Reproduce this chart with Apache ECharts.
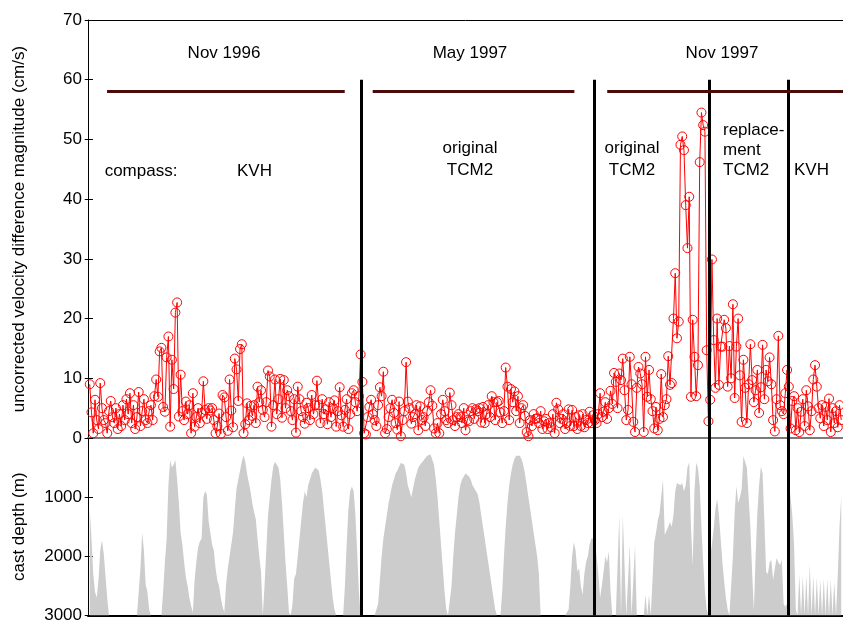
<!DOCTYPE html>
<html>
<head>
<meta charset="utf-8">
<script src="https://cdn.jsdelivr.net/npm/echarts@6/dist/echarts.min.js"></script>
<style>
  html, body { margin: 0; padding: 0; background: #fff; }
  #chart { width: 843px; height: 624px; }
</style>
</head>
<body>
<div id="chart"></div>
<script>
// Velocity difference magnitude (cm/s), one value per cast, grouped by cruise / compass
const velNov96Kvh = [
  9, 4.3, 0.8, 6.4, 3, 1.5, 9.2, 5, 3, 2.5,
  0.8, 4.5, 6.2, 3.5, 2.5, 5, 1.5, 4, 2, 5.5,
  3, 6.5, 4, 7.5, 2.5, 5.5, 1.5, 3.5, 7.7, 2,
  4.5, 6.5, 3, 2.5, 4.5, 5.5, 3, 7, 9.8, 6.9,
  14.5, 15.1, 5.2, 4.4, 13.5, 17, 1.9, 13.1, 8.2, 21,
  22.7, 3.6, 10.6, 4.5, 3, 6.1, 4, 5.5, 0.8, 7.5,
  1.9, 3.5, 5, 2.5, 4.2, 9.5, 4.7, 3.2, 5, 4.6,
  5, 3, 0.8, 2, 4.1, 0.7, 7.2, 6.8, 3.5, 1.2,
  9.8, 4.6, 1.8, 13.3, 11.5, 6.2, 14.9, 15.7, 0.8, 2.3,
  5.8, 3, 5.4, 3.7, 5.5, 2.5, 8.6, 6, 8, 4.7,
  3.5, 6, 11.3, 10.3, 1.9, 5.5, 9.8, 4, 6.5, 9.9,
  3.4, 9.7, 5, 8, 7, 4.5, 3, 6.5, 0.9, 8.6,
  6.5, 4.5, 3.5, 2.4, 5.9, 5, 3, 7.2, 4, 5.5,
  9.6, 5.5, 2.5, 6.5, 4, 4.8, 2.3, 6, 3.5, 5,
  6.3, 1.9, 4.5, 8.5, 3.8, 1.9, 4.7, 6.5, 1.5, 4,
  7.5, 8, 6, 4.5, 7, 14
];
const velMay97Tcm2 = [
  9.4, 0.8, 0.6, 3.5, 5.2, 6.4, 4, 3, 2, 5.5,
  8.5, 7, 11.1, 0.8, 1.5, 3.5, 5, 6.4, 4.2, 2.5,
  1.4, 6.1, 0.3, 3, 4.5, 12.7, 6.1, 5, 2.4, 3.5,
  4, 5.5, 1.3, 5.3, 3, 3.5, 2, 4.5, 6, 8,
  5.4, 1.6, 0.8, 2.5, 0.8, 4, 6.4, 4.5, 3, 2.5,
  7.6, 5.5, 3, 2, 3.5, 4, 3.5, 2.5, 5, 1.3,
  3, 2.8, 4.5, 5, 3.2, 4.8, 4.5, 5, 2.6, 5.2,
  2.5, 4, 5.5, 3.5, 7, 6, 3, 6, 6.2, 4.3,
  2.5, 4.5, 11.8, 8.6, 3, 8.2, 6, 7.8, 4.5, 7,
  2.5, 5, 5.5, 3.7, 1, 0.3, 3, 2, 4, 3.2,
  3.3, 2.5, 4.5, 1.5, 2.8, 3.2, 1.5, 2.5, 1.8, 4,
  0.8, 5.9, 4.8, 2.5, 3.2, 4, 1.5, 2.5, 4.8, 2,
  4.7, 2, 3.5, 1.5, 3.8, 2, 4, 1.8, 3, 2.5,
  4.4, 2.5, 3.8
];
const velNov97Tcm2 = [
  3, 2.5, 4, 7.5, 3.5, 4.4, 6, 3.2, 5, 7.9,
  5.7, 10.9, 9.4, 5, 10.8, 9.7, 13.3, 8, 3, 4.7,
  13.6, 9, 2.7, 1, 8.4, 11.9, 10.8, 9, 1, 13.6,
  6.9, 11.4, 6.5, 4.5, 1.6, 5.2, 1.3, 3.2, 10.7, 3.5,
  5.5, 6.5, 13.7, 8.9, 9.2, 20, 27.6, 16.7, 19.5, 49.1,
  50.5, 48.2, 39, 31.8, 40.4, 6.9, 19.8, 13.6, 7, 12.2,
  46.2, 54.5, 52.4, 51.3, 14.7, 2.8
];
const velNov97Replacement = [
  6.4, 29.9, 16.4, 8.4, 20, 8.9, 15.3, 15.3, 19.8, 18.4,
  8.6, 15.4, 10, 22.4, 6.7, 15.3, 20, 10.5, 2.7, 13.1,
  8.4, 2.5, 9, 15.7, 9.7, 6, 8, 11.4, 4.2, 8.5,
  15.6, 6.5, 11.4, 9.5, 13.5, 9, 3, 1.1, 6.5, 17.1,
  5.5, 4.5, 4, 7.5, 11.4
];
const velNov97Kvh = [
  8.6, 1.6, 6.2, 7, 1.3, 5, 1, 4.4, 6.5, 2,
  8, 5.3, 1.3, 4.5, 9.8, 12.2, 8.6, 5, 3.3, 5.5,
  2, 5.2, 3, 6.6, 1, 5, 2.5, 4.5, 1.8, 5.5,
  3
];

// Cast depth (m), same casts
const depthNov96Kvh = [
  1200, 1700, 2300, 2600, 2700, 2400, 1900, 1730, 1950, 1950,
  2700, 3000, 3000, 3000, 3000, 3000, 3000, 3000, 3000, 3000,
  3000, 3000, 3000, 3000, 3000, 3000, 3000, 3000, 3000, 2200,
  1600, 1900, 2480, 2600, 2900, 3000, 3000, 3000, 3000, 3000,
  3000, 3000, 2600, 2100, 1700, 800, 370, 500, 450, 370,
  700, 1100, 1600, 1800, 2100, 2350, 2500, 2700, 2840, 2950,
  2400, 2090, 1850, 1750, 1700, 1000, 900, 950, 1400, 1600,
  1800, 1900, 2200, 2400, 2500, 2700, 2850, 2950, 2480, 2200,
  2000, 1800, 1590, 1200, 850, 700, 550, 400, 290, 400,
  600, 750, 900, 1100, 1250, 1370, 1700, 2000, 2260, 3000,
  2500, 1900, 1300, 1000, 700, 480, 400, 370, 500, 700,
  1100, 1590, 2100, 2500, 2950, 3000, 2800, 2370, 2300, 2000,
  1700, 1400, 1100, 900, 1000, 800, 700, 600, 550, 500,
  480, 550, 700, 900, 1200, 1500, 1800, 2100, 2400, 2700,
  2900, 3000, 3000, 3000, 3000, 3000, 2500, 1800, 1200, 900,
  820, 900, 1300, 1900, 2600, 3000
];
const depthMay97Tcm2 = [
  3000, 3000, 3000, 3000, 3000, 3000, 3000, 3000, 3000, 2800,
  2400, 2000, 1700, 1500, 1300, 1100, 950, 800, 700, 600,
  550, 480, 420, 400, 450, 600, 800, 900, 1000, 850,
  700, 600, 500, 450, 420, 380, 340, 300, 290, 280,
  300, 450, 700, 1000, 1400, 1800, 2200, 2600, 2900, 3000,
  3000, 2500, 2000, 1600, 1300, 1000, 800, 700, 650, 600,
  620, 650, 700, 800, 850, 900, 950, 1100, 1300, 1500,
  1700, 1900, 2100, 2300, 2500, 2700, 2900, 3000, 3000, 3000,
  2600, 2000, 1500, 1100, 800, 600, 450, 350, 300, 280,
  300, 350, 450, 600, 800, 1000, 1200, 1400, 1600, 1800,
  2000, 2300, 3000, 3000, 3000, 3000, 3000, 3000, 3000, 3000,
  3000, 3000, 3000, 3000, 3000, 3000, 3000, 3000, 2900, 2500,
  2000, 1760, 1900, 2260, 2200, 2500, 2650, 2300, 2090, 2000,
  1800, 1700, 1700
];
const depthNov97Tcm2 = [
  1700, 2000, 2300, 2700, 2500, 2260, 2000, 2100, 1920, 2600,
  3000, 3000, 3000, 3000, 1310, 3000, 1300, 1310, 3000, 3000,
  1810, 3000, 3000, 1810, 3000, 3000, 3000, 3000, 3000, 2650,
  3000, 2650, 3000, 2400, 1760, 1600, 1400, 1280, 1300, 700,
  1640, 1660, 1500, 1420, 1500, 1300, 900, 760, 760, 800,
  760, 900, 800, 500, 410, 1480, 2150, 900, 420, 510,
  800, 1500, 2100, 2600, 2900, 3000
];
const depthNov97Replacement = [
  2030, 1800, 1530, 1200, 1030, 1300, 1700, 2100, 2420, 2700,
  2900, 3000, 3000, 2000, 1260, 810, 1100, 1000, 870, 310,
  280, 500, 1000, 1500, 2260, 2920, 2000, 1260, 800, 480,
  600, 1400, 2260, 2300, 2100, 2060, 2400, 2200, 2030, 2100,
  2150, 2050, 2800, 2850, 2800
];
const depthNov97Kvh = [
  760, 1000, 1310, 1810, 2900, 3000, 2310, 3000, 2330, 3000,
  2330, 3000, 2120, 3000, 2330, 3000, 2360, 3000, 2400, 3000,
  2380, 3000, 2380, 3000, 2400, 3000, 2430, 3000, 2330, 1500,
  980
];

// Cruise bars at the top, in cast-number units
const cruiseBarLevel = 58;
const cruiseBars = [[9.9, 145.9], [161.9, 277.3], [296.1, 431]];

// Axis ticks
const velTicks = { min: 0, max: 70, step: 10 };
const depthTicks = { min: 0, max: 3000, step: 1000 };

const velGroups = [velNov96Kvh, velMay97Tcm2, velNov97Tcm2, velNov97Replacement, velNov97Kvh];
const depthGroups = [depthNov96Kvh, depthMay97Tcm2, depthNov97Tcm2, depthNov97Replacement, depthNov97Kvh];

const velocity = [].concat(...velGroups);
const depth = [].concat(...depthGroups);
const velPts = velocity.map((v, i) => [i, v]);
const depthPts = depth.map((v, i) => [i, v]);

// Dividers between compass / cruise groups (half a cast past the last cast of each group)
const dividers = [];
let acc = 0;
for (let g = 0; g < velGroups.length - 1; g++) {
  acc += velGroups[g].length;
  dividers.push(acc - 0.5);
}

const FONT = '"Liberation Sans", Arial, Helvetica, sans-serif';
const FS = 17;

const chart = echarts.init(document.getElementById('chart'), null, { renderer: 'canvas' });

const xBase = { type: 'value', min: -1, max: 431, axisTick: { show: false }, axisLabel: { show: false }, splitLine: { show: false } };

function txt(text, x, y, align) {
  return {
    type: 'text', x: x, y: y, silent: true,
    style: {
      text: text, fill: '#000', fontSize: FS, fontFamily: FONT,
      textAlign: align || 'center', textVerticalAlign: 'middle',
      align: align || 'center', verticalAlign: 'middle'
    }
  };
}

const blackLine = { color: '#000', width: 3, type: 'solid' };
const barLine = { color: '#4b0b0b', width: 3, type: 'solid' };

chart.setOption({
  animation: false,
  textStyle: { fontFamily: FONT },
  grid: [
    { left: 88, top: 20, width: 756, height: 418 },
    { left: 88, top: 438, width: 756, height: 180 }
  ],
  xAxis: [
    Object.assign({}, xBase, { gridIndex: 0, position: 'bottom', axisLine: { onZero: false, lineStyle: { color: '#7a7a7a', width: 2 } } }),
    Object.assign({}, xBase, { gridIndex: 0, position: 'top', axisLine: { onZero: false, lineStyle: { color: '#000', width: 1 } } }),
    Object.assign({}, xBase, { gridIndex: 1, position: 'bottom', axisLine: { onZero: false, lineStyle: { color: '#000', width: 2 } } })
  ],
  yAxis: [
    {
      gridIndex: 0, type: 'value', position: 'left',
      min: velTicks.min, max: velTicks.max, interval: velTicks.step,
      axisLine: { show: true, onZero: false, lineStyle: { color: '#000', width: 1 } },
      axisTick: { show: true, inside: true, length: 5, lineStyle: { color: '#000' } },
      axisLabel: { color: '#000', fontSize: FS, fontFamily: FONT, margin: 6 },
      splitLine: { show: false },
      name: 'uncorrected velocity difference magnitude (cm/s)',
      nameLocation: 'middle', nameGap: 60,
      nameTextStyle: { color: '#000', fontSize: FS, fontFamily: FONT }
    },
    {
      gridIndex: 0, type: 'value', position: 'right',
      min: velTicks.min, max: velTicks.max, interval: velTicks.step,
      axisLine: { show: false },
      axisTick: { show: true, inside: true, length: 5, lineStyle: { color: '#000' } },
      axisLabel: { show: false }, splitLine: { show: false }
    },
    {
      gridIndex: 1, type: 'value', position: 'left', inverse: true,
      min: depthTicks.min, max: depthTicks.max, interval: depthTicks.step,
      axisLine: { show: true, onZero: false, lineStyle: { color: '#000', width: 1 } },
      axisTick: { show: true, inside: true, length: 5, lineStyle: { color: '#000' } },
      axisLabel: { color: '#000', fontSize: FS, fontFamily: FONT, margin: 6,
        formatter: v => (v === 0 ? '' : String(v)) },
      splitLine: { show: false },
      name: 'cast depth (m)',
      nameLocation: 'middle', nameGap: 60,
      nameTextStyle: { color: '#000', fontSize: FS, fontFamily: FONT }
    },
    {
      gridIndex: 1, type: 'value', position: 'right', inverse: true,
      min: depthTicks.min, max: depthTicks.max, interval: depthTicks.step,
      axisLine: { show: false },
      axisTick: { show: true, inside: true, length: 5, lineStyle: { color: '#000' } },
      axisLabel: { show: false }, splitLine: { show: false }
    }
  ],
  series: [
    {
      name: 'cast depth', type: 'line', xAxisIndex: 2, yAxisIndex: 2,
      data: depthPts, symbol: 'none', silent: true, z: 1,
      lineStyle: { width: 0 },
      areaStyle: { color: '#cccccc', opacity: 1, origin: 'end' },
      markLine: {
        silent: true, symbol: ['none', 'none'], label: { show: false },
        lineStyle: blackLine,
        data: dividers.map(b => ({ xAxis: b, lineStyle: blackLine }))
      }
    },
    {
      name: 'velocity difference', type: 'line', xAxisIndex: 0, yAxisIndex: 0,
      data: velPts, z: 3, silent: true,
      symbol: 'circle', symbolSize: 9, showAllSymbol: true,
      itemStyle: { color: 'rgba(255,0,0,0)', borderColor: '#ff0000', borderWidth: 1 },
      lineStyle: { color: '#ff0000', width: 1 },
      markLine: {
        silent: true, symbol: ['none', 'none'], label: { show: false },
        data: dividers.map(b => [
          { coord: [b, 60], lineStyle: blackLine },
          { coord: [b, 0] }
        ]).concat(cruiseBars.map(r => [
          { coord: [r[0], cruiseBarLevel], lineStyle: barLine },
          { coord: [r[1], cruiseBarLevel] }
        ]))
      }
    }
  ],
  graphic: [
    txt('Nov 1996', 224, 53.5),
    txt('May 1997', 470, 53.5),
    txt('Nov 1997', 722, 53.5),
    txt('compass:', 141, 171),
    txt('KVH', 254.5, 171),
    txt('original', 470, 148.5),
    txt('TCM2', 470, 170.5),
    txt('original', 632, 148.5),
    txt('TCM2', 632, 170.5),
    txt('replace-', 723, 130, 'left'),
    txt('ment', 723, 150, 'left'),
    txt('TCM2', 723, 170.5, 'left'),
    txt('KVH', 794, 170.5, 'left')
  ]
});
</script>
</body>
</html>
